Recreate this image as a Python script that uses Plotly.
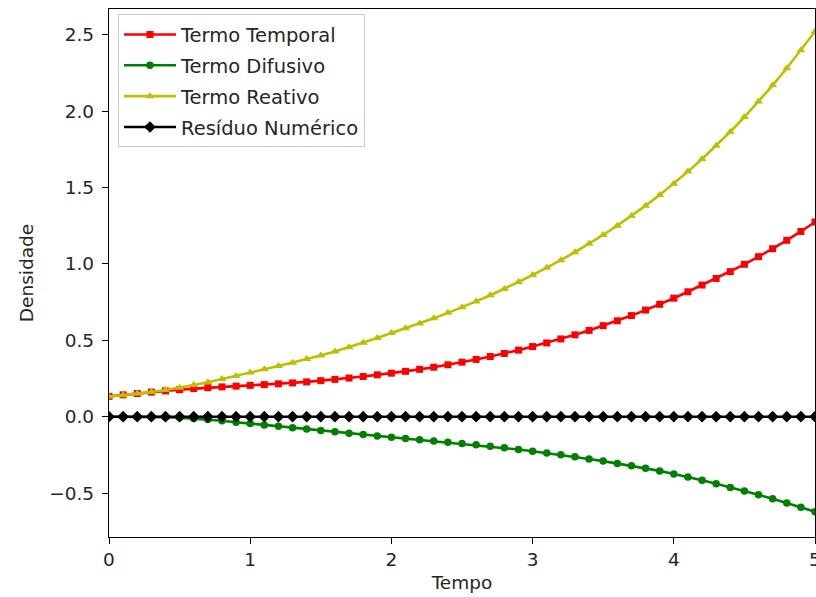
import plotly.graph_objects as go

tempo = [round(i * 0.1, 1) for i in range(51)]

termo_temporal = [
    0.133, 0.143, 0.152, 0.161, 0.169, 0.177, 0.184, 0.190, 0.195, 0.200,
    0.205, 0.210, 0.215, 0.221, 0.228, 0.236, 0.244, 0.253, 0.263, 0.274,
    0.285, 0.297, 0.310, 0.324, 0.340, 0.357, 0.375, 0.394, 0.414, 0.436,
    0.459, 0.483, 0.509, 0.536, 0.565, 0.596, 0.628, 0.662, 0.698, 0.736,
    0.776, 0.818, 0.862, 0.905, 0.950, 0.998, 1.048, 1.100, 1.155, 1.213,
    1.275,
]

termo_difusivo = [
    0.000, 0.000, -0.001, -0.002, -0.003, -0.006, -0.012, -0.019, -0.027, -0.036,
    -0.045, -0.054, -0.063, -0.072, -0.081, -0.090, -0.099, -0.108, -0.117, -0.126,
    -0.135, -0.143, -0.151, -0.159, -0.167, -0.175, -0.184, -0.194, -0.204, -0.215,
    -0.226, -0.238, -0.250, -0.263, -0.277, -0.291, -0.306, -0.322, -0.338, -0.355,
    -0.375, -0.395, -0.417, -0.440, -0.463, -0.487, -0.512, -0.538, -0.565, -0.593,
    -0.622,
]

termo_reativo = [
    0.132, 0.141, 0.151, 0.162, 0.175, 0.189, 0.207, 0.226, 0.246, 0.267,
    0.289, 0.310, 0.332, 0.354, 0.377, 0.401, 0.427, 0.455, 0.484, 0.515,
    0.548, 0.579, 0.611, 0.645, 0.680, 0.716, 0.755, 0.795, 0.837, 0.882,
    0.928, 0.975, 1.025, 1.077, 1.132, 1.190, 1.251, 1.315, 1.382, 1.452,
    1.526, 1.605, 1.688, 1.775, 1.866, 1.962, 2.064, 2.170, 2.282, 2.400,
    2.523,
]

residuo_numerico = [0.0] * 51

series = [
    ("Termo Temporal", termo_temporal, "#ff0000", "square", 7),
    ("Termo Difusivo", termo_difusivo, "#008000", "circle", 7.5),
    ("Termo Reativo", termo_reativo, "#bfbf00", "triangle-up", 8),
    ("Resíduo Numérico", residuo_numerico, "#000000", "diamond", 9),
]

FONT = "DejaVu Sans"
FS = 18.5
TXT = "#262626"

fig = go.Figure()
for i, (name, vals, color, sym, size) in enumerate(series):
    fig.add_trace(go.Scatter(
        x=tempo, y=vals, name=name, mode="lines+markers",
        line=dict(color=color, width=2.6),
        marker=dict(symbol=sym, size=size, color=color, line=dict(width=0)),
        legendgroup=f"g{i}",
    ))

fig.update_layout(
    width=816, height=597,
    margin=dict(l=109, r=1, t=9, b=60, autoexpand=False),
    paper_bgcolor="white", plot_bgcolor="white",
    font=dict(family=FONT, size=FS, color=TXT),
    showlegend=True,
    legend=dict(
        x=0.0127, y=0.99, xanchor="left", yanchor="top",
        bgcolor="rgba(255,255,255,0.8)", bordercolor="#cccccc", borderwidth=1,
        font=dict(family=FONT, size=19.5, color=TXT),
        tracegroupgap=2.5, itemwidth=52,
    ),
    xaxis=dict(
        range=[0, 5], tickvals=[0, 1, 2, 3, 4, 5], ticktext=["0", "1", "2", "3", "4", "5"],
        showgrid=False, zeroline=False, automargin=False,
        showline=True, linecolor="#000000", linewidth=1.3, mirror=True,
        ticks="outside", ticklen=6, tickwidth=1.3, tickcolor="#000000",
        ticklabeloverflow="allow",
        title=dict(text="Tempo", font=dict(family=FONT, size=FS, color=TXT), standoff=6),
    ),
    yaxis=dict(
        range=[-0.788, 2.67],
        tickvals=[-0.5, 0.0, 0.5, 1.0, 1.5, 2.0, 2.5],
        ticktext=["\u22120.5", "0.0", "0.5", "1.0", "1.5", "2.0", "2.5"],
        showgrid=False, zeroline=False, automargin=False,
        showline=True, linecolor="#000000", linewidth=1.3, mirror=True,
        ticks="outside", ticklen=6, tickwidth=1.3, tickcolor="#000000",
        ticklabelstandoff=4,
        title=dict(text="Densidade", font=dict(family=FONT, size=FS, color=TXT), standoff=10),
    ),
)

fig.write_html("out.html")
